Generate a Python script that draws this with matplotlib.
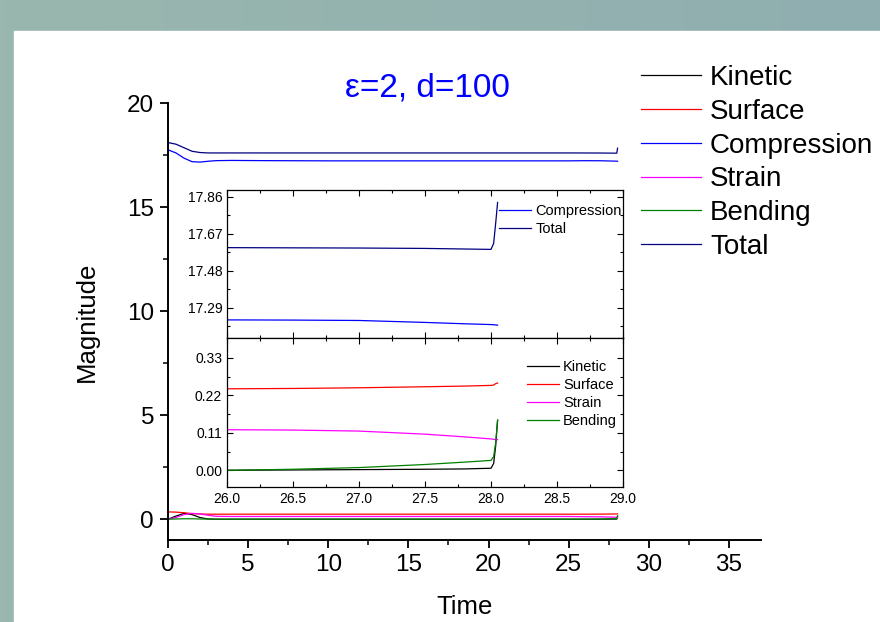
import matplotlib
matplotlib.use('Agg')
import matplotlib.pyplot as plt
import numpy as np
from matplotlib.patches import Rectangle
from matplotlib.ticker import MultipleLocator, FixedLocator

plt.rcParams['font.family'] = ['Liberation Sans', 'DejaVu Sans']

# main plot data
time = [0.0, 0.5, 1.0, 1.5, 2.0, 2.5, 3.0, 4.0, 6.0, 10.0, 15.0, 20.0, 25.0, 26.0, 27.0, 28.0, 28.05]
kinetic = [0.0, 0.15, 0.28, 0.22, 0.08, 0.01, 0.0, 0.0, 0.0, 0.0, 0.0, 0.0, 0.0, 0.0, 0.001, 0.005, 0.15]
surface = [0.35, 0.34, 0.31, 0.27, 0.25, 0.24, 0.24, 0.24, 0.24, 0.24, 0.24, 0.24, 0.24, 0.24, 0.245, 0.25, 0.26]
compression = [17.75, 17.60, 17.35, 17.18, 17.16, 17.20, 17.23, 17.24, 17.23, 17.22, 17.22, 17.22, 17.22, 17.227, 17.224, 17.205, 17.20]
strain = [0.0, 0.08, 0.22, 0.28, 0.25, 0.19, 0.14, 0.13, 0.13, 0.13, 0.13, 0.13, 0.13, 0.119, 0.115, 0.092, 0.09]
bending = [0.0, 0.01, 0.02, 0.02, 0.01, 0.005, 0.0, 0.0, 0.0, 0.0, 0.0, 0.0, 0.0, 0.0, 0.008, 0.029, 0.147]
total = [18.10, 18.02, 17.85, 17.68, 17.62, 17.60, 17.60, 17.60, 17.60, 17.60, 17.60, 17.60, 17.60, 17.598, 17.596, 17.589, 17.83]

# zoomed inset data, t = 26 .. 28.05
t_in = [26.0, 26.5, 27.0, 27.5, 27.8, 28.0, 28.02, 28.035, 28.05]
comp_in = [17.227, 17.226, 17.224, 17.214, 17.207, 17.203, 17.202, 17.201, 17.200]
total_in = [17.598, 17.597, 17.596, 17.594, 17.591, 17.589, 17.62, 17.72, 17.83]
kin_in = [0.0, 0.001, 0.002, 0.003, 0.004, 0.006, 0.02, 0.07, 0.147]
surf_in = [0.239, 0.240, 0.242, 0.245, 0.247, 0.249, 0.250, 0.254, 0.256]
strain_in = [0.119, 0.118, 0.115, 0.106, 0.098, 0.092, 0.091, 0.090, 0.090]
bend_in = [0.0, 0.003, 0.008, 0.017, 0.024, 0.029, 0.04, 0.08, 0.147]

colors = {'Kinetic': 'black', 'Surface': 'red', 'Compression': 'blue',
          'Strain': 'magenta', 'Bending': 'green', 'Total': 'navy'}

fig = plt.figure(figsize=(8.8, 6.22), dpi=100)
W, H = 880, 622

# slide background
bg = fig.add_axes([0, 0, 1, 1], zorder=-10)
grad = np.linspace(0, 1, 200)
top = np.array([154, 183, 174]) / 255
right = np.array([143, 174, 176]) / 255
img = top[None, :] * (1 - grad[:, None]) + right[None, :] * grad[:, None]
bg.imshow(img[None, :, :], aspect='auto', extent=[0, 1, 0, 1])
bg.add_patch(Rectangle((14 / W, 0), 1, 1 - 31 / H, color='white'))
bg.set_xlim(0, 1)
bg.set_ylim(0, 1)
bg.axis('off')

# main axes
ax = fig.add_axes([168 / W, 1 - 540 / H, (761 - 168) / W, (540 - 103) / H])
lw = 0.9
ax.plot(time, kinetic, color=colors['Kinetic'], lw=lw, label='Kinetic')
ax.plot(time, surface, color=colors['Surface'], lw=lw, label='Surface')
ax.plot(time, compression, color=colors['Compression'], lw=lw, label='Compression')
ax.plot(time, strain, color=colors['Strain'], lw=lw, label='Strain')
ax.plot(time, bending, color=colors['Bending'], lw=lw, label='Bending')
ax.plot(time, total, color=colors['Total'], lw=lw, label='Total')
ax.set_xlim(0, 37)
ax.set_ylim(-1, 20)
ax.xaxis.set_major_locator(MultipleLocator(5))
ax.xaxis.set_minor_locator(MultipleLocator(2.5))
ax.yaxis.set_major_locator(MultipleLocator(5))
ax.yaxis.set_minor_locator(MultipleLocator(2.5))
for s in ['top', 'right']:
    ax.spines[s].set_visible(False)
for s in ['left', 'bottom']:
    ax.spines[s].set_linewidth(1.4)
ax.tick_params(which='major', direction='out', length=6, width=1.3, labelsize=17.5, pad=4)
ax.tick_params(which='minor', direction='out', length=3.5, width=1.1)
ax.set_xlabel('Time', fontsize=18.5, labelpad=14)
ax.set_ylabel('Magnitude', fontsize=18.5, labelpad=20)
ax.set_facecolor('none')
fig.text(427 / W, 1 - 88 / H, 'ε=2, d=100', color='blue', fontsize=24, ha='center', va='center')

ax.legend(loc='upper left', bbox_to_anchor=(641 / W, 1 - 65 / H), bbox_transform=fig.transFigure,
          frameon=False, fontsize=20, handlelength=2.15, handletextpad=0.33, labelspacing=0.28,
          borderpad=0, borderaxespad=0)

# inset, upper panel
ia = fig.add_axes([227 / W, 1 - 338 / H, (623 - 227) / W, (338 - 190) / H])
ia.plot(t_in, comp_in, color=colors['Compression'], lw=lw, label='Compression')
ia.plot(t_in, total_in, color=colors['Total'], lw=lw, label='Total')
ia.set_xlim(26, 29)
ia.set_ylim(17.134, 17.894)
ia.yaxis.set_major_locator(FixedLocator([17.29, 17.48, 17.67, 17.86]))
ia.yaxis.set_minor_locator(FixedLocator([17.195, 17.385, 17.575, 17.765]))
ia.yaxis.set_major_formatter(matplotlib.ticker.FormatStrFormatter('%.2f'))
ia.xaxis.set_major_locator(MultipleLocator(0.5))
ia.xaxis.set_minor_locator(MultipleLocator(0.25))
ia.tick_params(labelbottom=False)
ia.legend(loc='upper left', bbox_to_anchor=(499 / W, 1 - 204 / H), bbox_transform=fig.transFigure,
          frameon=False, fontsize=10.5, handlelength=2.2, handletextpad=0.28, labelspacing=0.25,
          borderpad=0, borderaxespad=0)

# inset, lower panel
ib = fig.add_axes([227 / W, 1 - 487 / H, (623 - 227) / W, (487 - 338) / H])
ib.plot(t_in, kin_in, color=colors['Kinetic'], lw=lw, label='Kinetic')
ib.plot(t_in, surf_in, color=colors['Surface'], lw=lw, label='Surface')
ib.plot(t_in, strain_in, color=colors['Strain'], lw=lw, label='Strain')
ib.plot(t_in, bend_in, color=colors['Bending'], lw=lw, label='Bending')
ib.set_xlim(26, 29)
ib.set_ylim(-0.049, 0.388)
ib.yaxis.set_major_locator(FixedLocator([0.0, 0.11, 0.22, 0.33]))
ib.yaxis.set_minor_locator(FixedLocator([-0.055, 0.055, 0.165, 0.275]))
ib.yaxis.set_major_formatter(matplotlib.ticker.FormatStrFormatter('%.2f'))
ib.xaxis.set_major_locator(MultipleLocator(0.5))
ib.xaxis.set_minor_locator(MultipleLocator(0.25))
ib.xaxis.set_major_formatter(matplotlib.ticker.FormatStrFormatter('%.1f'))
ib.legend(loc='upper left', bbox_to_anchor=(527 / W, 1 - 360 / H), bbox_transform=fig.transFigure,
          frameon=False, fontsize=10.5, handlelength=2.2, handletextpad=0.28, labelspacing=0.27,
          borderpad=0, borderaxespad=0)

for a in (ia, ib):
    a.tick_params(which='both', direction='in', top=True, right=True, labelsize=10, width=0.8)
    a.tick_params(which='major', length=4)
    a.tick_params(which='minor', length=2.5)
    for s in a.spines.values():
        s.set_linewidth(0.9)

fig.savefig('out.png', dpi=100)
